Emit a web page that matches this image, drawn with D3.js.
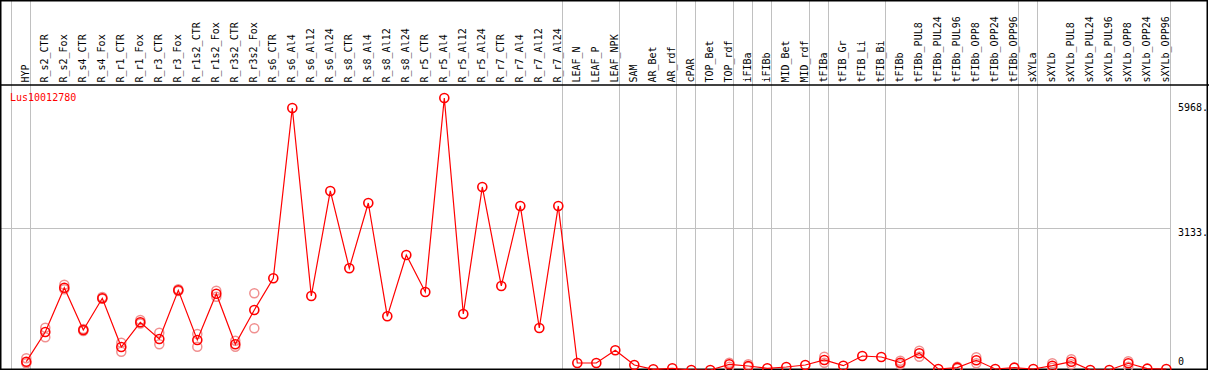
<!DOCTYPE html>
<html>
<head>
<meta charset="utf-8">
<script src="https://cdn.jsdelivr.net/npm/d3@7"></script>
<style>
  html, body { margin: 0; padding: 0; background: white; }
  svg { display: block; }
</style>
</head>
<body>
<svg id="main-svg" width="1209" height="370"></svg>
<script>
// sample columns, left to right
const samples = [
    "HYP", "R_s2_CTR", "R_s2_Fox", "R_s4_CTR", "R_s4_Fox", "R_r1_CTR", "R_r1_Fox",
    "R_r3_CTR", "R_r3_Fox", "R_r1s2_CTR", "R_r1s2_Fox", "R_r3s2_CTR", "R_r3s2_Fox",
    "R_s6_CTR", "R_s6_Al4", "R_s6_Al12", "R_s6_Al24", "R_s8_CTR", "R_s8_Al4",
    "R_s8_Al12", "R_s8_Al24", "R_r5_CTR", "R_r5_Al4", "R_r5_Al12", "R_r5_Al24",
    "R_r7_CTR", "R_r7_Al4", "R_r7_Al12", "R_r7_Al24", "LEAF_N", "LEAF_P", "LEAF_NPK",
    "SAM", "AR_Bet", "AR_rdf", "cPAR", "TOP_Bet", "TOP_rdf", "iFIBa", "iFIBb",
    "MID_Bet", "MID_rdf", "tFIBa", "tFIB_Gr", "tFIB_Li", "tFIB_Bi", "tFIBb",
    "tFIBb_PUL8", "tFIBb_PUL24", "tFIBb_PUL96", "tFIBb_OPP8", "tFIBb_OPP24",
    "tFIBb_OPP96", "sXYLa", "sXYLb", "sXYLb_PUL8", "sXYLb_PUL24", "sXYLb_PUL96",
    "sXYLb_OPP8", "sXYLb_OPP24", "sXYLb_OPP96"
];

// last sample of each tissue group (a grey separator follows it)
const groupEnds = ["HYP", "R_r7_Al24", "LEAF_NPK", "AR_rdf", "cPAR", "TOP_rdf",
    "iFIBa", "iFIBb", "MID_rdf", "tFIBa", "tFIB_Bi", "tFIBb_OPP96", "sXYLa", "sXYLb_OPP96"];

const geneName = "Lus10012780";

// mean expression
const meanValues = [
    231, 877, 1841, 920, 1610, 550, 1088, 725, 1784, 703, 1710, 609, 1355,
    2045, 5751, 1660, 3945, 2263, 3684, 1218, 2552, 1747, 5968, 1268, 4032,
    1878, 3619, 964, 3619, 202, 202, 479,
    159, 65, 87, 50, 50, 174, 137, 87,
    115, 159, 268, 144, 355, 333, 209,
    413, 72, 101, 261, 72, 101, 72, 144, 231, 50, 50, 196, 79, 72
];

// replicate values (null where none shows)
const rep1 = [
    305, 970, 1906, 940, 1638, 644, 1138, 862, 1806, 833, 1775, 688, 1719,
    null, null, null, null, null, null, null, null, null, null, null, null,
    null, null, null, null, null, null, null,
    null, null, null, null, null, 209, 174, null,
    null, null, 339, null, null, null, 252,
    470, null, 122, 326, null, null, null, 196, 283, null, null, 239, null, null
];
const rep2 = [
    196, 762, 1806, 900, 1600, 448, 1060, 609, 1770, 557, 1645, 557, 957,
    null, null, null, null, null, null, null, null, null, null, null, null,
    null, null, null, null, null, null, null,
    null, null, null, null, null, 122, 122, null,
    null, null, 209, null, null, null, 174,
    339, null, 80, 196, null, null, null, 100, 174, null, null, 122, null, null
];

// right axis labels
const axisTicks = [5968, 3133, 0];

function drawChart() {
    const width = 1209, height = 370;
    const headerBottom = 85;
    const mono = "'DejaVu Sans Mono', 'Liberation Mono', monospace";

    const svg = d3.select("#main-svg");
    svg.append("rect")
        .attr("width", width)
        .attr("height", height)
        .attr("fill", "white");

    // column scale: bands of 19px, point sits a bit right of centre
    const x = d3.scaleBand()
        .domain(samples)
        .range([11.5, 11.5 + 19 * samples.length]);
    const px = d => x(d) + 14.8;

    const y = d3.scaleLinear()
        .domain([0, 5968])
        .range([372.3, 98]);

    // grey separators between tissue groups
    const seps = [x(samples[0])].concat(groupEnds.map(s => x(s) + x.bandwidth()));
    svg.append("g")
        .selectAll("line")
        .data(seps)
        .enter().append("line")
        .attr("x1", d => d).attr("x2", d => d)
        .attr("y1", 0).attr("y2", height)
        .attr("stroke", "#c0c0c0")
        .attr("stroke-width", 1);

    // mid grid line
    svg.append("line")
        .attr("x1", 0).attr("x2", x(samples[samples.length - 1]) + x.bandwidth())
        .attr("y1", Math.round(y(3133)) + 0.5).attr("y2", Math.round(y(3133)) + 0.5)
        .attr("stroke", "#c0c0c0")
        .attr("stroke-width", 1);

    // header line and frame
    svg.append("line")
        .attr("x1", 0).attr("x2", width)
        .attr("y1", headerBottom).attr("y2", headerBottom)
        .attr("stroke", "black")
        .attr("stroke-width", 1.5);
    svg.append("rect")
        .attr("x", 0.75).attr("y", 0.75)
        .attr("width", 1206.5).attr("height", 368.5)
        .attr("fill", "none")
        .attr("stroke", "black")
        .attr("stroke-width", 1.5);

    // rotated column labels
    svg.append("g")
        .attr("font-family", mono)
        .attr("font-size", "10px")
        .selectAll("text")
        .data(samples)
        .enter().append("text")
        .attr("transform", d => `translate(${px(d) + 3},82.5) rotate(-90)`)
        .attr("fill", "black")
        .text(d => d);

    // gene name
    svg.append("text")
        .attr("x", 10)
        .attr("y", 101)
        .attr("font-family", mono)
        .attr("font-size", "10px")
        .attr("fill", "red")
        .text(geneName);

    // right axis labels
    svg.append("g")
        .attr("font-family", mono)
        .attr("font-size", "10px")
        .selectAll("text")
        .data(axisTicks)
        .enter().append("text")
        .attr("x", 1178)
        .attr("y", (d, i) => i === 0 ? y(d) + 13 : (i === 1 ? y(d) + 7.5 : y(d) - 7))
        .attr("fill", "black")
        .text(d => d === 0 ? "0" : d + ".");

    // replicate circles
    const reps = [];
    samples.forEach((s, i) => {
        if (rep1[i] !== null) reps.push({ s: s, v: rep1[i] });
        if (rep2[i] !== null) reps.push({ s: s, v: rep2[i] });
    });
    svg.append("g")
        .selectAll("circle")
        .data(reps)
        .enter().append("circle")
        .attr("cx", d => px(d.s))
        .attr("cy", d => y(d.v))
        .attr("r", 4.5)
        .attr("fill", "none")
        .attr("stroke", "#f09090")
        .attr("stroke-width", 1.5);

    // mean line
    const pts = samples.map((s, i) => ({ s: s, v: meanValues[i] }));
    svg.append("path")
        .datum(pts)
        .attr("d", d3.line().x(d => px(d.s)).y(d => y(d.v)))
        .attr("fill", "none")
        .attr("stroke", "red")
        .attr("stroke-width", 1.2);

    svg.append("g")
        .selectAll("circle")
        .data(pts)
        .enter().append("circle")
        .attr("cx", d => px(d.s))
        .attr("cy", d => y(d.v))
        .attr("r", 4.5)
        .attr("fill", "none")
        .attr("stroke", "red")
        .attr("stroke-width", 1.6);
}

drawChart();
</script>
</body>
</html>
